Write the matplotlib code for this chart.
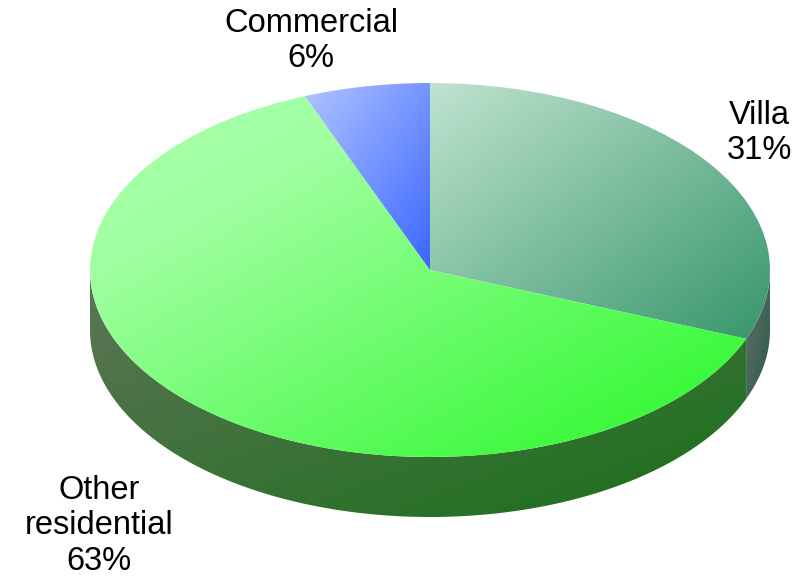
import numpy as np
import matplotlib
matplotlib.use('Agg')
import matplotlib.pyplot as plt
from matplotlib.patches import Polygon
from matplotlib.colors import LinearSegmentedColormap

# share of each type
categories = ['Villa', 'Other\nresidential', 'Commercial']
shares = [31, 63, 6]

# gradient colours, top surface and side wall
top_colors = [
    [(0, '#bfe3d0'), (1, '#37966c')],
    [(0, '#aaffaa'), (0.25, '#a0ffa0'), (1, '#26f826')],
    [(0, '#b0c4ff'), (1, '#3a66ff')],
]
side_colors = [('#66706a', '#2c5a48'), ('#5f7458', '#197019'), ('#5f7458', '#197019')]
label_pos = [(759, 133), (99, 526), (311, 41)]

W, H = 807, 577
CX, CY, RX, RY = 430, 270, 340, 187
DEPTH = 60 / RY

plt.rcParams['font.family'] = ['Liberation Sans', 'DejaVu Sans']

fig = plt.figure(figsize=(W / 100, H / 100), dpi=100)
ax = fig.add_axes([0, 0, 1, 1])
wedges, _ = ax.pie(shares, startangle=90, counterclock=False, radius=1, center=(0, 0))


def fill_gradient(patch, colors, zorder):
    # diagonal gradient over the patch's bounding box, clipped to the patch
    box = patch.get_path().transformed(patch.get_patch_transform()).get_extents()
    xx, yy = np.meshgrid(np.linspace(0, 1, 200), np.linspace(0, 1, 200))
    cmap = LinearSegmentedColormap.from_list('g', colors)
    im = ax.imshow((xx + yy) / 2, cmap=cmap, vmin=0, vmax=1, origin='upper',
                   extent=(box.x0, box.x1, box.y0, box.y1), aspect='auto',
                   interpolation='bilinear', zorder=zorder)
    im.set_clip_path(patch)


for wedge, top, side in zip(wedges, top_colors, side_colors):
    # side wall only exists on the front half of the ellipse
    t = np.radians(np.linspace(wedge.theta1, wedge.theta2, 400))
    t = t[np.sin(t) < 0]
    if len(t) > 1:
        upper = np.column_stack([np.cos(t), np.sin(t)])
        lower = (upper - [0, DEPTH])[::-1]
        wall = Polygon(np.vstack([upper, lower]), closed=True, facecolor='none',
                       edgecolor='none', zorder=1)
        ax.add_patch(wall)
        fill_gradient(wall, side, 1)
    wedge.set_facecolor('none')
    wedge.set_edgecolor('none')
    wedge.set_zorder(2)
    fill_gradient(wedge, top, 2)

ax.set_aspect('auto')
ax.set_xlim((0 - CX) / RX, (W - CX) / RX)
ax.set_ylim((CY - H) / RY, CY / RY)
ax.axis('off')

for name, share, (px, py) in zip(categories, shares, label_pos):
    fig.text(px / W, 1 - py / H, f'{name}\n{share}%', ha='center', va='center',
             fontsize=23.5, color='black', linespacing=1.19)

fig.savefig('out.png', dpi=100, facecolor='white')
